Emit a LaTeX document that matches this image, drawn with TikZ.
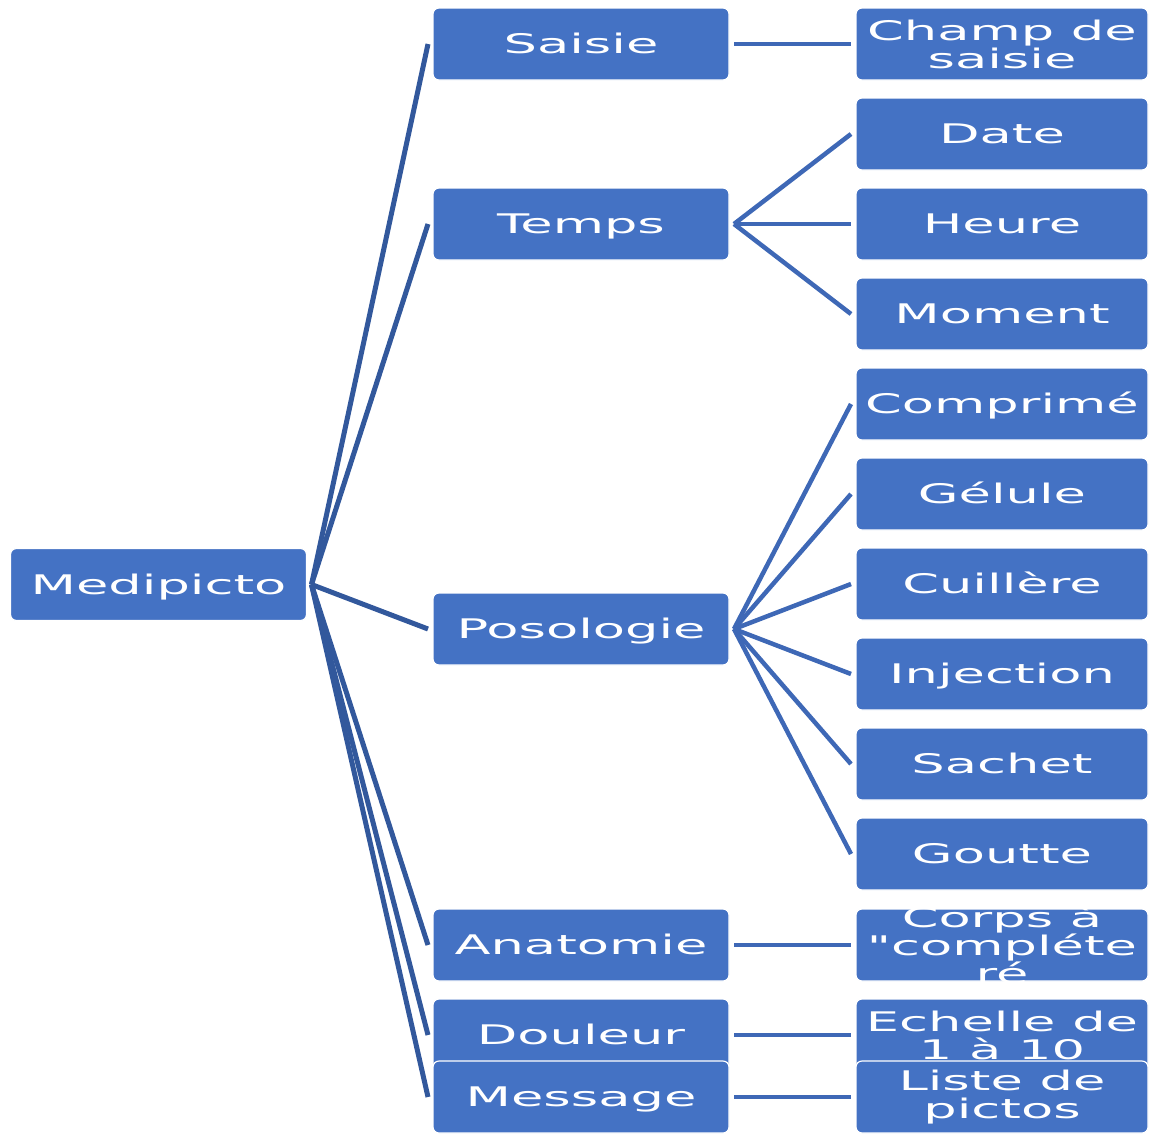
\documentclass[tikz,border=0pt]{standalone}
\usepackage{fontspec}
\usetikzlibrary{backgrounds}
\newfontfamily\boxfont[FakeStretch=1.95]{DejaVu Sans}
\definecolor{boxblue}{RGB}{68,114,196}
\definecolor{rootline}{RGB}{50,88,156}
\definecolor{subline}{RGB}{62,104,182}
\tikzset{
  boxtext/.style={text=white, align=center, inner sep=0pt, font=\boxfont\fontsize{27}{28}\selectfont},
  box/.style={rectangle, rounded corners=6pt, fill=boxblue, draw=white, line width=1.2pt,
    minimum height=72pt, inner sep=0pt, outer xsep=5pt, outer ysep=0pt, boxtext},
  onebox/.style={text height=19.7pt, text depth=0pt},
  rootbox/.style={box, onebox, minimum width=296pt},
  lvlone/.style={box, onebox, minimum width=296pt},
  lvltwo/.style={box, onebox, minimum width=292pt},
  rootconn/.style={draw=rootline, line width=5pt},
  subconn/.style={draw=subline, line width=4.5pt},
}
\begin{document}
\begin{tikzpicture}[x=1pt,y=-1pt]
\useasboundingbox (0,0) rectangle (1149,1133);
% nodes
\node[rootbox] (root) at (158.5,584.5) {Medipicto};
\node[lvlone] (saisie) at (581,44) {Saisie};
\node[lvlone] (temps) at (581,224) {Temps};
\node[lvlone] (poso) at (581,629) {Posologie};
\node[lvlone] (anat) at (581,945) {Anatomie};
\node[lvlone] (doul) at (581,1035) {Douleur};
\node[lvltwo, label={[boxtext]center:Champ de\\saisie}] (champ) at (1002,44) {};
\node[lvltwo] (date) at (1002,134) {Date};
\node[lvltwo] (heure) at (1002,224) {Heure};
\node[lvltwo] (moment) at (1002,314) {Moment};
\node[lvltwo] (compr) at (1002,404) {Comprimé};
\node[lvltwo] (gelule) at (1002,494) {Gélule};
\node[lvltwo] (cuil) at (1002,584) {Cuillère};
\node[lvltwo] (inj) at (1002,674) {Injection};
\node[lvltwo] (sachet) at (1002,764) {Sachet};
\node[lvltwo] (goutte) at (1002,854) {Goutte};
\node[lvltwo, label={[boxtext]center:Corps à\\"compléte\\ré}] (corps) at (1002,945) {};
\node[lvltwo, label={[boxtext]center:Echelle de\\1 à 10}] (echelle) at (1002,1035) {};
\node[lvlone] (msg) at (581,1097) {Message};
\node[lvltwo, label={[boxtext]center:Liste de\\pictos}] (liste) at (1002,1097) {};
% connectors (drawn behind)
\begin{scope}[on background layer]
\foreach \c in {saisie,temps,poso,anat,doul,msg}
  \draw[rootconn] (root.east) -- (\c.west);
\draw[subconn] (saisie.east) -- (champ.west);
\foreach \c in {date,heure,moment}
  \draw[subconn] (temps.east) -- (\c.west);
\foreach \c in {compr,gelule,cuil,inj,sachet,goutte}
  \draw[subconn] (poso.east) -- (\c.west);
\draw[subconn] (anat.east) -- (corps.west);
\draw[subconn] (doul.east) -- (echelle.west);
\draw[subconn] (msg.east) -- (liste.west);
\end{scope}
\end{tikzpicture}
\end{document}
